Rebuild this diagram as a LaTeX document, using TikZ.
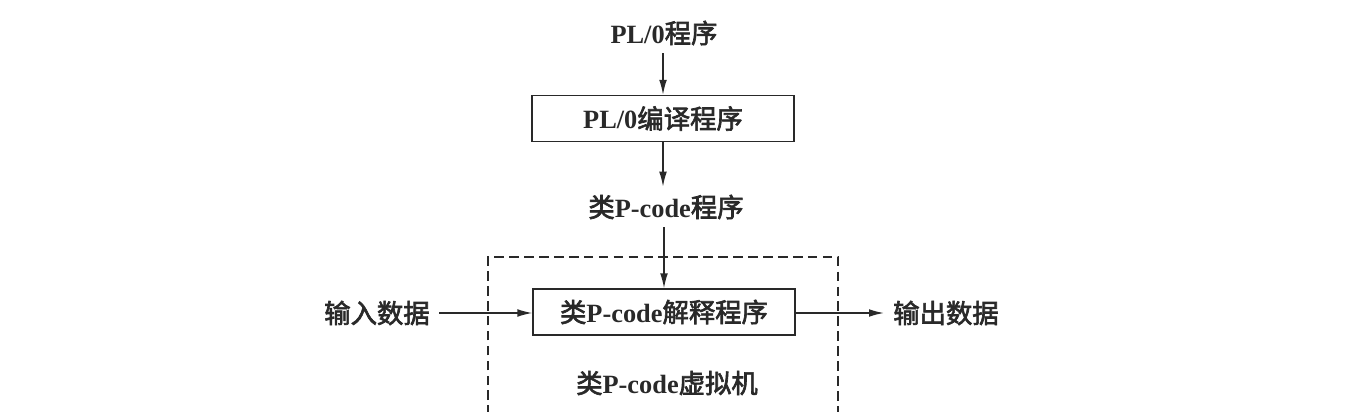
\documentclass[tikz,border=0pt]{standalone}
\usepackage{fontspec}
\setmainfont{Liberation Serif}
\newfontfamily\cjk{Noto Sans CJK SC}[BoldFont={Noto Sans CJK SC}, BoldFeatures={FakeBold=2.5}]
\usetikzlibrary{arrows.meta}
\definecolor{ink}{gray}{0.16}
\tikzset{
  lbl/.style={inner xsep=0.18cm, inner ysep=0pt, minimum height=0.8cm, text=ink,
    font=\fontsize{15}{18}\selectfont\bfseries},
  procbox/.style={draw=ink, line width=0.8pt, minimum width=5.24cm, minimum height=0.92cm,
    inner sep=0pt, text=ink, font=\fontsize{15}{18}\selectfont\bfseries},
  flow/.style={draw=ink, line width=0.8pt, -{Latex[length=8.5pt,width=4.4pt]}},
  vmframe/.style={draw=ink, line width=0.8pt, dash pattern=on 5.5pt off 3pt}
}
\begin{document}
\begin{tikzpicture}[x=0.02cm, y=-0.02cm]
\useasboundingbox (0,0) rectangle (1372,412);
\node[lbl] (src) at (664,33) {PL/0{\cjk 程序}};
\node[procbox] (comp) at (663,118.5) {PL/0{\cjk 编译程序}};
\node[lbl] (pcode) at (666,207) {{\cjk 类}P-code{\cjk 程序}};
\node[procbox] (interp) at (664,312) {{\cjk 类}P-code{\cjk 解释程序}};
\node[lbl] (in) at (377,313) {\cjk 输入数据};
\node[lbl] (out) at (946,313) {\cjk 输出数据};
\node[lbl] (vm) at (667,383) {{\cjk 类}P-code{\cjk 虚拟机}};
\begin{scope}
  \clip (0,0) rectangle (1372,412);
  \draw[vmframe] (488,430) -- (488,257) -- (838,257) -- (838,430);
\end{scope}
\draw[flow] (src.south -| comp.north) -- (comp.north);
\draw[flow] (comp.south) -- (comp.south |- pcode.north);
\draw[flow] (pcode.south -| interp.north) -- (interp.north);
\draw[flow] (in.east) -- (in.east -| interp.west);
\draw[flow] (out.west -| interp.east) -- (out.west);
\end{tikzpicture}
\end{document}
